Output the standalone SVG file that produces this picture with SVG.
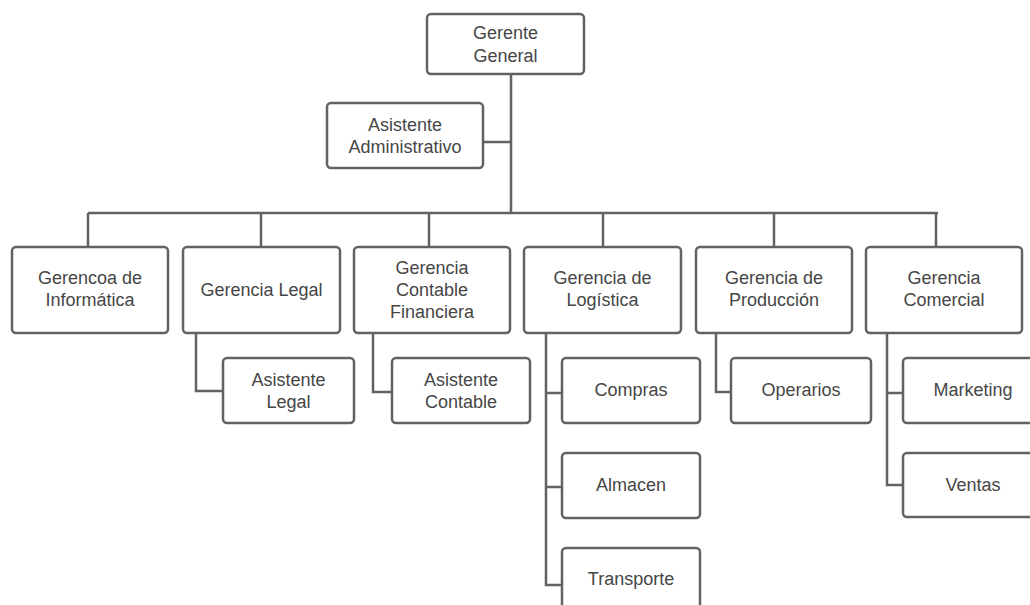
<svg xmlns="http://www.w3.org/2000/svg" width="1030" height="605" viewBox="0 0 1030 605">
<style>
.box{fill:#ffffff;stroke:#626262;stroke-width:2.5}
.ln{fill:none;stroke:#626262;stroke-width:2.5}
text{font-family:"Liberation Sans",Arial,sans-serif;font-size:18px;fill:#464646;text-anchor:middle}
</style>
<rect width="1030" height="605" fill="#ffffff"/>
<g id="connectors">
<path class="ln" d="M511 74V213M483 142H511M88 213H938M88 213V247M261 213V247M429 213V247M603 213V247M774 213V247M936 213V247"/>
<path class="ln" d="M196 333V391H223M373 333V392H392M546 333V585H562M546 393H562M546 487H562M716 333V392H731M887 333V485H903M887 393H903"/>
</g>
<g id="gerente-general"><rect class="box" x="427" y="14" width="157" height="60" rx="4"/><text x="505.5" y="38.5">Gerente</text><text x="505.5" y="61.5">General</text></g>
<g id="asistente-administrativo"><rect class="box" x="327" y="103" width="156" height="65" rx="4"/><text x="405" y="130.5">Asistente</text><text x="405" y="152.5">Administrativo</text></g>
<g id="gerencia-informatica"><rect class="box" x="12" y="247" width="156" height="86" rx="4"/><text x="90" y="283.5">Gerencoa de</text><text x="90" y="305.5">Informática</text></g>
<g id="gerencia-legal"><rect class="box" x="183" y="247" width="157" height="86" rx="4"/><text x="261.5" y="296">Gerencia Legal</text></g>
<g id="gerencia-contable"><rect class="box" x="354" y="247" width="156" height="86" rx="4"/><text x="432" y="273.5">Gerencia</text><text x="432" y="295.5">Contable</text><text x="432" y="317.5">Financiera</text></g>
<g id="gerencia-logistica"><rect class="box" x="524" y="247" width="157" height="86" rx="4"/><text x="602.5" y="283.5">Gerencia de</text><text x="602.5" y="305.5">Logística</text></g>
<g id="gerencia-produccion"><rect class="box" x="696" y="247" width="156" height="86" rx="4"/><text x="774" y="283.5">Gerencia de</text><text x="774" y="305.5">Producción</text></g>
<g id="gerencia-comercial"><rect class="box" x="866" y="247" width="156" height="86" rx="4"/><text x="944" y="283.5">Gerencia</text><text x="944" y="305.5">Comercial</text></g>
<g id="asistente-legal"><rect class="box" x="223" y="358" width="131" height="65" rx="4"/><text x="288.5" y="385.5">Asistente</text><text x="288.5" y="407.5">Legal</text></g>
<g id="asistente-contable"><rect class="box" x="392" y="358" width="138" height="65" rx="4"/><text x="461" y="385.5">Asistente</text><text x="461" y="407.5">Contable</text></g>
<g id="compras"><rect class="box" x="562" y="358" width="138" height="65" rx="4"/><text x="631" y="396">Compras</text></g>
<g id="almacen"><rect class="box" x="562" y="453" width="138" height="65" rx="4"/><text x="631" y="491">Almacen</text></g>
<g id="transporte"><rect class="box" x="562" y="548" width="138" height="65" rx="4"/><text x="631" y="585">Transporte</text></g>
<g id="operarios"><rect class="box" x="731" y="358" width="140" height="65" rx="4"/><text x="801" y="396">Operarios</text></g>
<g id="marketing"><rect class="box" x="903" y="358" width="140" height="65" rx="4"/><text x="973" y="396">Marketing</text></g>
<g id="ventas"><rect class="box" x="903" y="453" width="140" height="64" rx="4"/><text x="973" y="491">Ventas</text></g>
</svg>
